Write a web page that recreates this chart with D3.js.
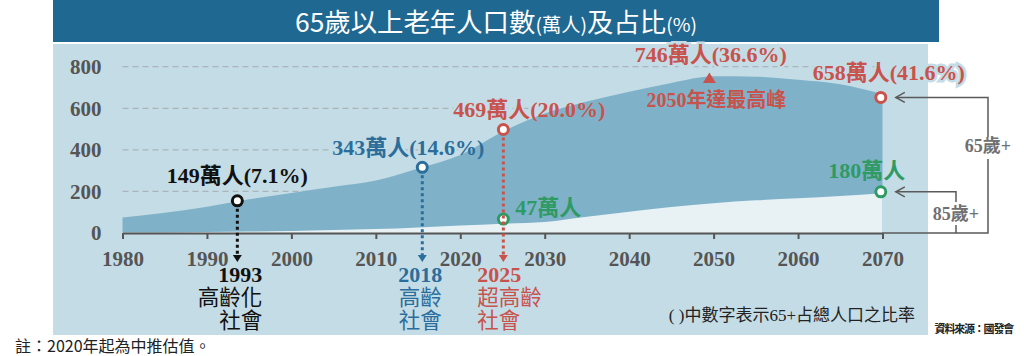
<!DOCTYPE html>
<html><head><meta charset="utf-8">
<script src="https://cdn.jsdelivr.net/npm/d3@7"></script>
<style>
body{margin:0;background:#fff;}
svg{display:block;}
</style></head>
<body>
<svg id="chart" width="1024" height="356"></svg>
<script>
// ---- data ----
const years  = [1980,1985,1990,1995,2000,2005,2010,2015,2020,2025,2030,2035,2040,2045,2050,2055,2060,2065,2070];
const pop65  = [75,97,126,162,192,222,252,310,375,487,575,632,679,722,754,752,737,715,668];
const pop85  = [2,3,5,7,10,14,19,27,36,45,53,78,102,125,143,157,167,178,191];
const xTicks = [1980,1990,2000,2010,2020,2030,2040,2050,2060,2070];
const yTicks = [0,200,400,600,800];
const markerYears  = [1993.6, 2015.5, 2025.1, 2025.1, 2069.8, 2069.8];
const markerValues = [155, 316, 498, 67, 652, 198];
const markerLabels = ["149萬人(7.1%)","343萬人(14.6%)","469萬人(20.0%)","47萬人","658萬人(41.6%)","180萬人"];
const milestoneYearLabels = ["1993","2018","2025"];
const milestoneLines = [["高齡化","社會"],["高齡","社會"],["超高齡","社會"]];
const peakYear = 2049.5, peakValue = 722;
const peakLabel = "746萬人(36.6%)", peakNote = "2050年達最高峰";

// ---- styles ----
const C = {bg:"#c4dce6", a65:"#7fb2c9", a85:"#e8f2f5", title:"#1f6892",
  red:"#c8534c", blue:"#2b6e9b", green:"#2e9a64", black:"#111", gray:"#555"};
const markerColors = [C.black, C.blue, C.red, C.green, C.red, C.green];
const serif = "'Liberation Serif','Noto Sans CJK TC',serif";
const sans = "'Noto Sans CJK TC','Noto Sans',sans-serif";

const svg = d3.select("#chart");
const x = d3.scaleLinear().domain([1980,2070]).range([122.5,882.5]);
const y = d3.scaleLinear().domain([0,800]).range([233,66.7]);

// title bar & panel
svg.append("rect").attr("x",53).attr("y",0).attr("width",886).attr("height",42).attr("fill",C.title);
const tt = svg.append("text").attr("x",496).attr("y",32).attr("text-anchor","middle")
  .attr("fill","#fff").attr("font-family",sans).attr("font-size",26)
  .attr("textLength",402).attr("lengthAdjust","spacingAndGlyphs");
tt.append("tspan").text("65歲以上老年人口數");
tt.append("tspan").attr("font-size",19).text("(萬人)");
tt.append("tspan").text("及占比");
tt.append("tspan").attr("font-size",19).text("(%)");

svg.append("rect").attr("x",53).attr("y",44).attr("width",875).attr("height",291).attr("fill",C.bg);

// gridlines
svg.append("g").selectAll("line").data(yTicks.filter(d=>d>0)).join("line")
  .attr("x1",x(1980)).attr("x2",x(2070)).attr("y1",d=>y(d)).attr("y2",d=>y(d))
  .attr("stroke","#a9b5ba").attr("stroke-width",1.2).attr("stroke-dasharray","6,4");

// label positioning (relative to markers)
const lblPos = [
  {dx:0, dy:-18, anchor:"middle", halo:true},
  {dx:-14, dy:-12, anchor:"middle", halo:true},
  {dx:26, dy:-12, anchor:"middle", halo:true},
  {dx:12, dy:-4, anchor:"start", halo:false},
  {dx:8, dy:-17, anchor:"middle", halo:true},
  {dx:-14, dy:-14, anchor:"middle", halo:false}
];
const mk = markerYears.map((yr,i)=>({cx:x(yr), cy:y(markerValues[i]), color:markerColors[i], label:markerLabels[i], p:lblPos[i]}));

// halos (below areas, hide gridlines behind text)
const haloG = svg.append("g");
mk.filter(d=>d.p.halo).forEach(d=>{
  haloG.append("text").attr("x",d.cx+d.p.dx).attr("y",d.cy+d.p.dy).attr("text-anchor",d.p.anchor)
    .attr("font-family",serif).attr("font-weight","bold").attr("font-size",22)
    .attr("fill",C.bg).attr("stroke",C.bg).attr("stroke-width",5).text(d.label);
});
haloG.append("text").attr("x",x(peakYear)+1.5).attr("y",62).attr("text-anchor","middle")
  .attr("font-family",serif).attr("font-weight","bold").attr("font-size",22)
  .attr("fill",C.bg).attr("stroke",C.bg).attr("stroke-width",5).text(peakLabel);

// areas
const area65 = d3.area().x((d,i)=>x(years[i])).y0(y(0)).y1(d=>y(d)).curve(d3.curveMonotoneX);
const area85 = d3.area().x((d,i)=>x(years[i])).y0(y(0)).y1(d=>y(d)).curve(d3.curveMonotoneX);
svg.append("path").attr("d",area65(pop65)).attr("fill",C.a65);
svg.append("path").attr("d",area85(pop85)).attr("fill",C.a85);

// x axis
const xAxis = svg.append("g").attr("transform",`translate(0,${y(0)})`)
  .call(d3.axisBottom(x).tickValues(xTicks).tickFormat(d3.format("d")).tickSize(6).tickSizeOuter(0).tickPadding(12));
xAxis.select(".domain").attr("stroke",C.gray).attr("stroke-width",2.2);
xAxis.selectAll(".tick line").attr("stroke",C.gray).attr("stroke-width",2);
xAxis.selectAll("text").attr("font-family",serif).attr("font-weight","bold").attr("font-size",21).attr("fill",C.gray);

// y axis
const yAxis = svg.append("g").attr("transform",`translate(${x(1980)},0)`)
  .call(d3.axisLeft(y).tickValues(yTicks).tickSize(0).tickPadding(21));
yAxis.select(".domain").remove();
yAxis.selectAll("text").attr("font-family",serif).attr("font-weight","bold").attr("font-size",21).attr("fill",C.gray);

// markers
svg.append("g").selectAll("circle").data(mk).join("circle")
  .attr("cx",d=>d.cx).attr("cy",d=>d.cy).attr("r",5)
  .attr("fill","#fff").attr("stroke",d=>d.color).attr("stroke-width",3);

// dotted drop lines + arrows for milestones (markers 0,1,2)
const arrowTip = 262;
[0,1,2].forEach((mi,k)=>{
  const d = mk[mi];
  svg.append("line").attr("x1",d.cx).attr("x2",d.cx).attr("y1",d.cy+8).attr("y2",arrowTip-6)
    .attr("stroke",d.color).attr("stroke-width",3).attr("stroke-dasharray","3,3");
  svg.append("path").attr("d",`M${d.cx-4.5},${arrowTip-7}L${d.cx+4.5},${arrowTip-7}L${d.cx},${arrowTip}Z`).attr("fill",d.color);
  const anchors = [{a:"end",dx:25},{a:"middle",dx:-2},{a:"start",dx:-26}];
  const an = anchors[k];
  svg.append("text").attr("x",d.cx+an.dx).attr("y",282).attr("text-anchor",an.a)
    .attr("font-family",serif).attr("font-weight","bold").attr("font-size",22).attr("fill",d.color)
    .text(milestoneYearLabels[k]);
  milestoneLines[k].forEach((t,j)=>{
    svg.append("text").attr("x",d.cx+an.dx).attr("y",305+j*22.5).attr("text-anchor",an.a)
      .attr("font-family",sans).attr("font-size",21.5).attr("fill",d.color).text(t);
  });
});

// marker labels
mk.forEach(d=>{
  svg.append("text").attr("x",d.cx+d.p.dx).attr("y",d.cy+d.p.dy).attr("text-anchor",d.p.anchor)
    .attr("font-family",serif).attr("font-weight","bold").attr("font-size",22).attr("fill",d.color).text(d.label);
});

// peak
const px = x(peakYear), py = y(peakValue);
svg.append("path").attr("d",`M${px-6.5},${py}L${px+6.5},${py}L${px},${py-10.5}Z`).attr("fill",C.red);
svg.append("text").attr("x",px+1.5).attr("y",62).attr("text-anchor","middle")
  .attr("font-family",serif).attr("font-weight","bold").attr("font-size",22).attr("fill",C.red).text(peakLabel);
svg.append("text").attr("x",px+7).attr("y",107).attr("text-anchor","middle")
  .attr("font-family",serif).attr("font-weight","bold").attr("font-size",20).attr("fill",C.red).text(peakNote);

// brackets on right
const bg = svg.append("g").attr("stroke","#5a5a5a").attr("stroke-width",1.5).attr("fill","none");
const m65 = mk[4], m85 = mk[5];
const bx65 = 988, bx85 = 956, ax = m65.cx + 15;
bg.append("path").attr("d",`M${ax+9},${m65.cy-5}L${ax},${m65.cy}L${ax+9},${m65.cy+5}`);
bg.append("path").attr("d",`M${ax},${m65.cy}H${bx65}V137`);
bg.append("path").attr("d",`M${bx65},159V${y(0)}H${x(2070)}`);
bg.append("path").attr("d",`M${ax+9},${m85.cy-5}L${ax},${m85.cy}L${ax+9},${m85.cy+5}`);
bg.append("path").attr("d",`M${ax},${m85.cy}H${bx85}V202`);
bg.append("path").attr("d",`M${bx85},225V${y(0)}`);
svg.append("text").attr("x",bx65).attr("y",152).attr("text-anchor","middle")
  .attr("font-family",serif).attr("font-weight","bold").attr("font-size",18).attr("fill","#707070").text("65歲+");
svg.append("text").attr("x",bx85).attr("y",220).attr("text-anchor","middle")
  .attr("font-family",serif).attr("font-weight","bold").attr("font-size",18).attr("fill","#707070").text("85歲+");

// notes
svg.append("text").attr("x",915).attr("y",321).attr("text-anchor","end")
  .attr("font-family",serif).attr("font-size",17).attr("fill","#222").text("( )中數字表示65+占總人口之比率");
svg.append("text").attr("x",15).attr("y",352)
  .attr("font-family",sans).attr("font-size",16).attr("fill","#222").text("註：2020年起為中推估值。");
svg.append("text").attr("x",1013).attr("y",333).attr("text-anchor","end")
  .attr("font-family",sans).attr("font-weight","bold").attr("font-size",11).attr("fill","#222")
  .attr("letter-spacing",-1.2).text("資料來源：國發會");
</script>
</body></html>
